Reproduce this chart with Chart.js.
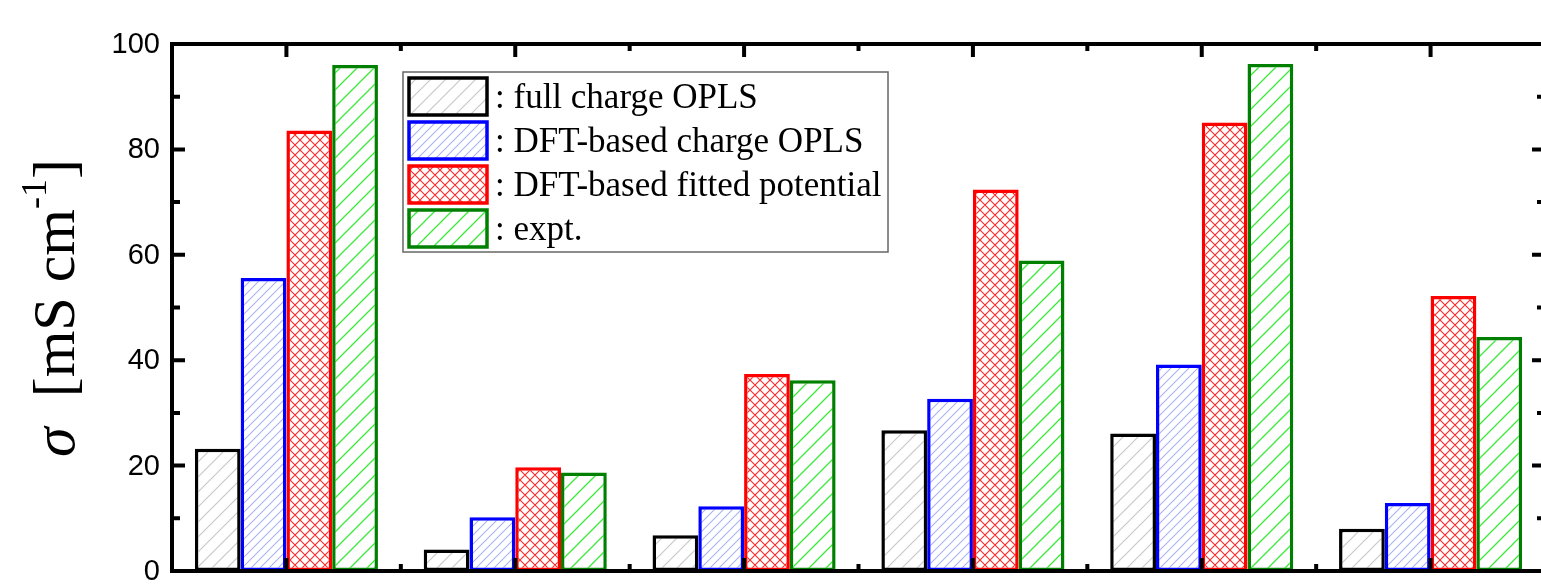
<!DOCTYPE html>
<html>
<head>
<meta charset="utf-8">
<script src="https://cdn.jsdelivr.net/npm/chart.js@4/dist/chart.umd.min.js"></script>
<style>
  html, body { margin: 0; padding: 0; background: #fff; overflow: hidden; }
  #wrap { width: 1541px; height: 586px; overflow: hidden; position: relative; }
  canvas { display: block; }
</style>
</head>
<body>
<div id="wrap"><canvas id="c" width="1560" height="586"></canvas></div>
<script>
// ---- data ----
const categories = ["1", "2", "3", "4", "5", "6"];
const fullChargeOPLS = [23.2, 4.1, 6.8, 26.7, 26.1, 8.0];
const dftChargeOPLS = [55.6, 10.2, 12.3, 32.7, 39.2, 12.9];
const dftFittedPotential = [83.6, 19.7, 37.4, 72.4, 85.1, 52.2];
const expt = [96.0, 18.7, 36.2, 58.9, 96.2, 44.4];
const seriesLabels = ["full charge OPLS", "DFT-based charge OPLS", "DFT-based fitted potential", "expt."];
const yTicks = [0, 20, 40, 60, 80, 100];

// ---- patterns ----
function hatch(color, size, lw, cross) {
  const c = document.createElement('canvas');
  c.width = size; c.height = size;
  const g = c.getContext('2d');
  g.fillStyle = '#fff'; g.fillRect(0, 0, size, size);
  g.strokeStyle = color; g.lineWidth = lw;
  g.beginPath();
  g.moveTo(-1, size + 1); g.lineTo(size + 1, -1);
  g.moveTo(-size / 2 - 1, size / 2 + 1); g.lineTo(size / 2 + 1, -size / 2 - 1);
  g.moveTo(size / 2 - 1, size * 1.5 + 1); g.lineTo(size * 1.5 + 1, size / 2 - 1);
  if (cross) {
    g.moveTo(-1, -1); g.lineTo(size + 1, size + 1);
    g.moveTo(-size / 2 - 1, size / 2 - 1); g.lineTo(size / 2 + 1, size * 1.5 + 1);
    g.moveTo(size / 2 - 1, -size / 2 - 1); g.lineTo(size * 1.5 + 1, size / 2 + 1);
  }
  g.stroke();
  return g.createPattern(c, 'repeat');
}
const ctxMain = document.getElementById('c').getContext('2d');
const patGray = hatch('#c9c9c9', 15, 1.2, false);
const patBlue = hatch('#a9b2f2', 9, 1.1, false);
const patRed = hatch('#ff2a2a', 10, 1.1, true);
const patGreen = hatch('#3ae83a', 17, 1.3, false);

const borderColors = ['#000000', '#0000ff', '#ff0000', '#008000'];
const fills = [patGray, patBlue, patRed, patGreen];
const seriesData = [fullChargeOPLS, dftChargeOPLS, dftFittedPotential, expt];

// ---- plugin: frame, ticks, tick labels, legend, y title ----
const decor = {
  id: 'decor',
  afterDatasetsDraw(chart) {
    const ctx = chart.ctx;
    const a = chart.chartArea;
    const xs = chart.scales.x, ys = chart.scales.y;
    ctx.save();
    ctx.strokeStyle = '#000';
    ctx.lineCap = 'butt';
    ctx.lineWidth = 4;
    ctx.beginPath();
    for (let v = 0; v <= 100; v += 10) {
      const y = ys.getPixelForValue(v);
      const len = (v % 20 === 0) ? 13 : 8;
      ctx.moveTo(a.left, y); ctx.lineTo(a.left + len, y);
      ctx.moveTo(a.right, y); ctx.lineTo(a.right - len, y);
    }
    for (let i = 0; i < categories.length; i++) {
      const x = xs.getPixelForValue(i);
      ctx.moveTo(x, a.top); ctx.lineTo(x, a.top + 13);
      ctx.moveTo(x, a.bottom); ctx.lineTo(x, a.bottom - 13);
      if (i < categories.length - 1) {
        const xb = (xs.getPixelForValue(i) + xs.getPixelForValue(i + 1)) / 2;
        ctx.moveTo(xb, a.top); ctx.lineTo(xb, a.top + 7);
        ctx.moveTo(xb, a.bottom); ctx.lineTo(xb, a.bottom - 7);
      }
    }
    ctx.stroke();
    ctx.strokeRect(a.left, a.top, a.right - a.left, a.bottom - a.top);

    // y tick labels
    ctx.fillStyle = '#000';
    ctx.font = '29px "Liberation Sans", Arial, sans-serif';
    ctx.textAlign = 'right';
    ctx.textBaseline = 'middle';
    yTicks.forEach(v => ctx.fillText(String(v), a.left - 12, ys.getPixelForValue(v) + 1));

    // legend
    const lx = 403, ly = 72, lw = 485, lh = 180;
    ctx.fillStyle = '#fff';
    ctx.fillRect(lx, ly, lw, lh);
    ctx.strokeStyle = '#666';
    ctx.lineWidth = 1.5;
    ctx.strokeRect(lx, ly, lw, lh);
    ctx.font = '35px "Liberation Serif", "Times New Roman", serif';
    ctx.textBaseline = 'middle';
    ctx.textAlign = 'left';
    chart.data.datasets.forEach((ds, i) => {
      const bx = 409, by = 78 + i * 44, bw = 78, bh = 37;
      ctx.fillStyle = ds.backgroundColor;
      ctx.fillRect(bx, by, bw, bh);
      ctx.strokeStyle = ds.borderColor;
      ctx.lineWidth = 3.5;
      ctx.strokeRect(bx, by, bw, bh);
      ctx.fillStyle = '#000';
      ctx.fillText(': ' + ds.label, 495, by + bh / 2 + 2);
    });

    // y title
    ctx.translate(74, 308);
    ctx.rotate(-Math.PI / 2);
    ctx.fillStyle = '#000';
    ctx.textBaseline = 'alphabetic';
    const fMain = '60px "Liberation Serif", "Times New Roman", serif';
    const fSig = 'italic 60px "Liberation Serif", "Times New Roman", serif';
    const fSup = '36px "Liberation Serif", "Times New Roman", serif';
    const parts = [
      { t: 'σ', f: fSig, dy: 0 },
      { t: '  [mS cm', f: fMain, dy: 0 },
      { t: '-1', f: fSup, dy: -28 },
      { t: ']', f: fMain, dy: 0 }
    ];
    let total = 0;
    parts.forEach(p => { ctx.font = p.f; p.w = ctx.measureText(p.t).width; total += p.w; });
    let x = -total / 2;
    parts.forEach(p => { ctx.font = p.f; ctx.fillText(p.t, x, p.dy); x += p.w; });
    ctx.restore();
  }
};

new Chart(ctxMain, {
  type: 'bar',
  data: {
    labels: categories,
    datasets: seriesLabels.map((lab, i) => ({
      label: lab,
      data: seriesData[i],
      backgroundColor: fills[i],
      borderColor: borderColors[i],
      borderWidth: 3.5,
      borderSkipped: false,
      categoryPercentage: 0.8,
      barPercentage: 1.0
    }))
  },
  options: {
    responsive: false,
    animation: false,
    devicePixelRatio: 1,
    layout: { padding: { left: 0, top: 44, right: 15, bottom: 15 } },
    plugins: { legend: { display: false }, tooltip: { enabled: false } },
    scales: {
      x: { display: false, offset: true, grid: { display: false } },
      y: {
        min: 0, max: 100,
        afterFit(s) { s.width = 172; },
        afterBuildTicks(s) { s.ticks = yTicks.map(v => ({ value: v })); },
        grid: { display: false, drawTicks: false },
        border: { display: false },
        ticks: { display: false }
      }
    }
  },
  plugins: [decor]
});
</script>
</body>
</html>
